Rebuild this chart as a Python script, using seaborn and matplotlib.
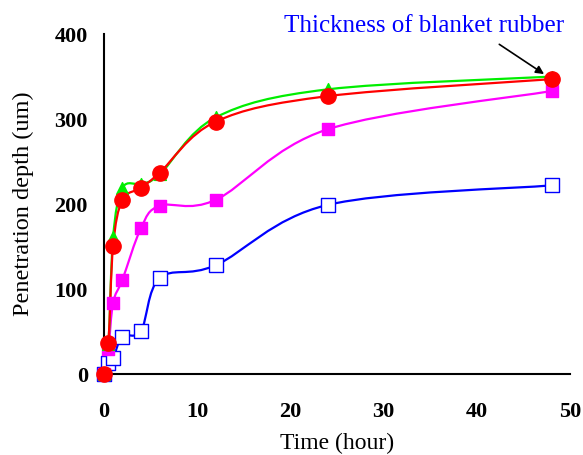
import numpy as np
import matplotlib.pyplot as plt
import pandas as pd
import seaborn as sns
from matplotlib.path import Path
from matplotlib.patches import PathPatch

sns.set_style("white")
plt.rcParams["font.family"] = ["Liberation Serif", "DejaVu Serif"]
plt.rcParams["text.color"] = "black"
plt.rcParams["axes.labelcolor"] = "black"

# values
hours = [0, 0.5, 1, 2, 4, 6, 12, 24, 48]
green_tri = [0, 35, 161, 219, 224, 235, 302, 335, 350]
red_circ = [0, 37, 151, 205, 219, 237, 297, 327, 347]
magenta_sq = [0, 30, 84, 111, 172, 198, 205, 288, 333]
blue_open = [0, 13, 19, 44, 51, 113, 128, 199, 222]


def smooth_path(x, y):
    # Excel-like smoothed line: cubic bezier per segment, Catmull-Rom control points
    p = np.column_stack([x, y]).astype(float)
    n = len(p)
    verts = [p[0]]
    codes = [Path.MOVETO]
    for i in range(n - 1):
        p0 = p[i - 1] if i > 0 else p[i]
        p3 = p[i + 2] if i + 2 < n else p[i + 1]
        c1 = p[i] + (p[i + 1] - p0) / 6
        c2 = p[i + 1] - (p3 - p[i]) / 6
        verts += [c1, c2, p[i + 1]]
        codes += [Path.CURVE4] * 3
    return Path(verts, codes)


fig, ax = plt.subplots(figsize=(5.83, 4.55), dpi=100)
fig.subplots_adjust(left=0.178, right=0.978, bottom=0.178, top=0.925)

series = [
    (blue_open, "#0000FF", "s", "white", 10),
    (magenta_sq, "#FF00FF", "s", "#FF00FF", 9),
    (green_tri, "#00EE00", "^", "#00EE00", 8.5),
    (red_circ, "#FF0000", "o", "#FF0000", 11),
]
for vals, col, mk, face, ms in series:
    ax.add_patch(PathPatch(smooth_path(hours, vals), fill=False, edgecolor=col, lw=1.6, zorder=2))
    df = pd.DataFrame({"t": hours, "v": vals})
    sns.scatterplot(data=df, x="t", y="v", ax=ax, marker=mk, s=ms ** 2,
                    facecolor=face, edgecolor=col, linewidth=1.0, zorder=3, clip_on=False)

ax.set_xlim(0, 50)
ax.set_ylim(0, 400)
ax.set_xticks(range(0, 51, 10))
ax.set_yticks(range(0, 401, 100))
for s in ["top", "right"]:
    ax.spines[s].set_visible(False)
for s in ["left", "bottom"]:
    ax.spines[s].set_color("black")
    ax.spines[s].set_linewidth(1.5)
ax.tick_params(direction="in", length=6, width=1.5, colors="black", labelsize=16)
ax.tick_params(axis="x", pad=20)
ax.tick_params(axis="y", pad=11.5)
for lbl in ax.get_xticklabels() + ax.get_yticklabels():
    lbl.set_fontweight("bold")

ax.set_xlabel("Time (hour)", fontsize=17, labelpad=8, color="black")
ax.set_ylabel("Penetration depth (um)", fontsize=17.5, labelpad=15, color="black")

ax.text(34.3, 409, "Thickness of blanket rubber", ha="center", va="center",
        color="#0000FF", fontsize=18, clip_on=False)
ax.annotate("", xy=(47.2, 353), xytext=(42.4, 388), annotation_clip=False,
            arrowprops=dict(arrowstyle="-|>", color="black", lw=1.2,
                            shrinkA=0, shrinkB=0, mutation_scale=12))

fig.savefig("out.png", dpi=100)
